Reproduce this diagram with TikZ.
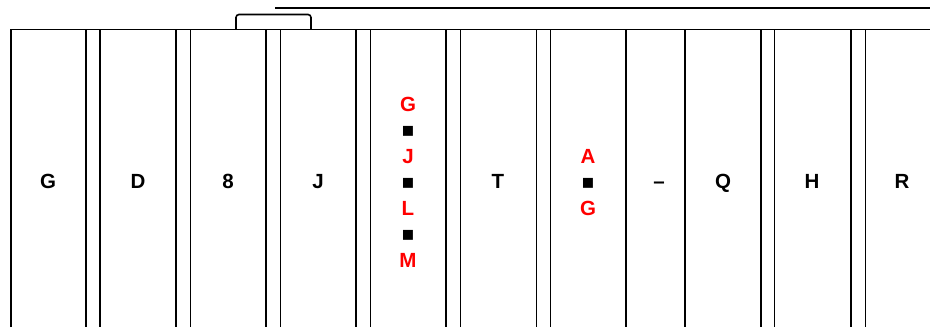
\documentclass[tikz,border=0pt]{standalone}
\usepackage{fontspec}
\setmainfont{Liberation Sans}
\usepackage{xcolor}
\usetikzlibrary{positioning}

\begin{document}
\begin{tikzpicture}[x=1pt, y=-1pt,
  wall/.style={line width=1.6pt, black},
  lab/.style={font=\fontsize{20.5}{26}\selectfont\bfseries, inner sep=0pt},
  hot/.style={lab, text=red, align=center, anchor=center},
]
\useasboundingbox (0,0) rectangle (930,327);

% Roof, upper rail and tab
\draw[wall] (11,327) -- (11,29.5) -- (930,29.5);
\draw[wall] (275,8) -- (930,8);
\draw[wall, rounded corners=3pt] (236,29.5) -- (236,14.5) -- (311,14.5) -- (311,29.5);

% Dividers
\foreach \x in {86,100,176,190.5,266,280.5,356,370.5,446,460.5,536.5,550.5,626,685,761,774.5,851,865.5}
  \draw[wall] (\x,29.5) -- (\x,327);

% Bay labels
\node[lab, anchor=base] (bayG) at (48,188) {G};
\node[lab, anchor=base] (bayD) at (138,188) {D};
\node[lab, anchor=base] (bay8) at (228,188) {8};
\node[lab, anchor=base] (bayJ) at (318,188) {J};
\node[hot] (stackGJLM) at (408,182) {G\\\textcolor{black}{■}\\J\\\textcolor{black}{■}\\L\\\textcolor{black}{■}\\M};
\node[lab, anchor=base] (bayT) at (498,188) {T};
\node[hot] (stackAG) at (588,183) {A\\\textcolor{black}{■}\\G};
\node[lab, anchor=base] (gap) at (659,188) {–};
\node[lab, anchor=base] (bayQ) at (723,188) {Q};
\node[lab, anchor=base] (bayH) at (812,188) {H};
\node[lab, anchor=base] (bayR) at (902,188) {R};

\end{tikzpicture}
\end{document}
